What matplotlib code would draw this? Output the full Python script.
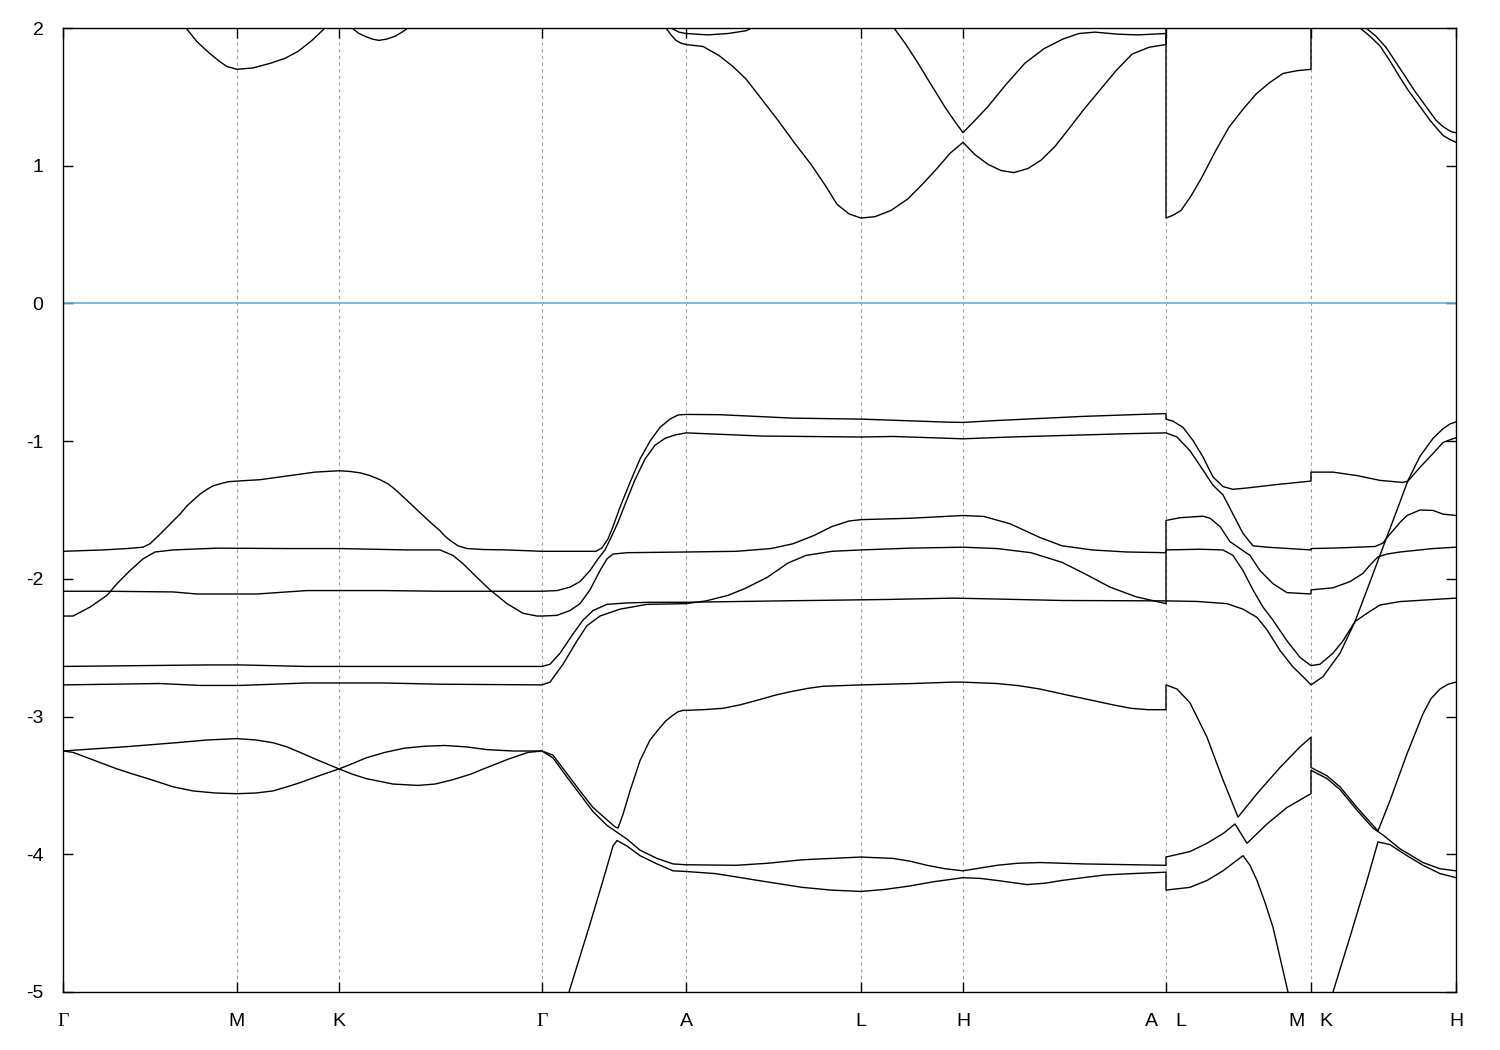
import matplotlib
matplotlib.use('Agg')
import matplotlib.pyplot as plt
import matplotlib.transforms as mtransforms

plt.rcParams['font.family'] = ['Liberation Sans', 'DejaVu Sans']
plt.rcParams['axes.unicode_minus'] = False

# k-path (arbitrary units) and high-symmetry points
node_k = [0, 174, 276, 479, 623, 798, 900, 1103, 1248, 1393]
node_lbl = ['Γ', 'M', 'K', 'Γ', 'A', 'L', 'H', '', '', 'H']
break_lbl = [(1103, 'A', 'L'), (1248, 'M', 'K')]
y_ticks = [2, 1, 0, -1, -2, -3, -4, -5]

# bands as (k, E) pairs, E in eV relative to E_F
v1 = [(0,-1.80),(40,-1.79),(64,-1.78),(80,-1.77),(87,-1.745),(95,-1.69),(104,-1.625),(110,-1.58),(117,-1.53),
      (124,-1.47),(130,-1.43),(137,-1.385),(144,-1.35),(150,-1.325),(157,-1.31),(165,-1.295),(174,-1.29),
      (197,-1.28),(227,-1.25),(252,-1.225),(276,-1.215),(287,-1.22),(297,-1.23),(307,-1.25),(317,-1.28),
      (325,-1.31),(332,-1.35),(338,-1.39),(344,-1.43),(352,-1.485),(360,-1.54),(369,-1.60),(377,-1.65),
      (382,-1.69),(387,-1.72),(395,-1.76),(404,-1.78),(420,-1.787),(444,-1.79),(479,-1.80),
      (497,-1.80),(517,-1.80),(533,-1.80),(539,-1.775),(545,-1.71),(550,-1.62),(557,-1.48),(567,-1.30),(577,-1.13),
      (587,-1.00),(597,-0.90),(607,-0.84),(615,-0.81),(623,-0.806),
      (657,-0.808),(730,-0.833),(798,-0.84),(884,-0.862),(900,-0.864),(934,-0.85),(1021,-0.82),(1077,-0.806),(1103,-0.80),
      (1103,-0.84),(1110,-0.855),(1120,-0.90),(1130,-0.995),(1140,-1.115),(1150,-1.26),(1160,-1.33),(1170,-1.35),
      (1184,-1.34),(1214,-1.315),(1248,-1.29),
      (1248,-1.225),(1270,-1.225),(1294,-1.25),(1317,-1.285),(1340,-1.30),(1345,-1.29),(1357,-1.19),(1370,-1.09),
      (1380,-1.01),(1387,-0.99),(1393,-0.975)]

v2 = [(0,-2.09),(44,-2.09),(110,-2.095),(134,-2.11),(194,-2.11),(244,-2.085),(320,-2.085),(377,-2.09),(460,-2.09),(479,-2.09),
      (494,-2.085),(507,-2.06),(517,-2.02),(527,-1.94),(535,-1.855),(542,-1.79),(549,-1.685),(555,-1.59),(562,-1.46),
      (572,-1.28),(582,-1.13),(592,-1.03),(602,-0.98),(612,-0.955),(623,-0.94),
      (699,-0.963),(798,-0.97),(830,-0.966),(900,-0.983),(947,-0.97),(1064,-0.946),(1103,-0.94),
      (1114,-0.97),(1127,-1.07),(1140,-1.21),(1150,-1.32),(1160,-1.39),(1170,-1.53),(1180,-1.67),(1190,-1.76),
      (1204,-1.77),(1248,-1.79),
      (1248,-1.78),(1277,-1.775),(1312,-1.765),(1320,-1.74),(1324,-1.70),(1330,-1.65),(1337,-1.59),(1344,-1.54),
      (1357,-1.50),(1370,-1.503),(1380,-1.53),(1393,-1.54)]

v3 = [(0,-2.27),(10,-2.27),(27,-2.205),(44,-2.12),(54,-2.035),(67,-1.94),(80,-1.855),(92,-1.805),(110,-1.79),
      (154,-1.777),(224,-1.78),(277,-1.78),(344,-1.79),(377,-1.79),(390,-1.83),(400,-1.89),(414,-1.99),(427,-2.08),
      (444,-2.18),(460,-2.25),(474,-2.27),(479,-2.27),
      (494,-2.265),(507,-2.23),(517,-2.18),(527,-2.08),(537,-1.94),(544,-1.855),(550,-1.82),(564,-1.81),(623,-1.805),
      (673,-1.80),(708,-1.78),(730,-1.745),(751,-1.685),(769,-1.62),(786,-1.58),(798,-1.57),(847,-1.56),(900,-1.54),
      (921,-1.547),(947,-1.60),(977,-1.70),(999,-1.76),(1029,-1.79),(1064,-1.805),(1103,-1.81),
      (1103,-1.79),(1137,-1.785),(1160,-1.79),(1170,-1.83),(1180,-1.94),(1190,-2.08),(1200,-2.205),(1210,-2.30),
      (1224,-2.45),(1237,-2.57),(1248,-2.63),
      (1257,-2.62),(1270,-2.54),(1280,-2.45),(1292,-2.31),(1304,-2.25),(1317,-2.19),(1337,-2.165),(1370,-2.15),(1393,-2.14)]

v4 = [(0,-2.636),(144,-2.625),(177,-2.625),(244,-2.636),(479,-2.636),
      (487,-2.62),(497,-2.54),(510,-2.40),(520,-2.30),(530,-2.23),(544,-2.185),(564,-2.175),(587,-2.17),(623,-2.17),
      (717,-2.16),(821,-2.15),(890,-2.14),(925,-2.145),(999,-2.157),(1103,-2.16),
      (1134,-2.164),(1164,-2.18),(1180,-2.22),(1194,-2.28),(1204,-2.37),(1217,-2.52),(1230,-2.64),(1240,-2.71),(1248,-2.77),
      (1260,-2.71),(1277,-2.54),(1292,-2.31),(1304,-2.08),(1320,-1.77),(1334,-1.50),(1345,-1.285),(1357,-1.11),
      (1370,-0.98),(1380,-0.91),(1387,-0.875),(1393,-0.86)]

v5 = [(0,-2.77),(97,-2.76),(137,-2.774),(177,-2.774),(244,-2.756),(320,-2.756),(377,-2.765),(479,-2.77),
      (487,-2.75),(500,-2.62),(514,-2.45),(524,-2.34),(537,-2.27),(557,-2.22),(584,-2.185),(623,-2.18),
      (643,-2.16),(665,-2.12),(682,-2.07),(704,-1.99),(725,-1.885),(743,-1.83),(769,-1.80),(798,-1.79),(847,-1.777),
      (900,-1.77),(934,-1.78),(968,-1.81),(999,-1.88),(1021,-1.96),(1047,-2.06),(1073,-2.13),(1103,-2.18),
      (1103,-1.576),(1117,-1.556),(1140,-1.545),(1147,-1.56),(1157,-1.62),(1167,-1.73),(1177,-1.78),(1187,-1.83),
      (1197,-1.94),(1210,-2.035),(1224,-2.10),(1248,-2.11),
      (1248,-2.08),(1270,-2.065),(1287,-2.02),(1300,-1.96),(1307,-1.90),(1315,-1.84),(1324,-1.82),(1337,-1.805),
      (1370,-1.78),(1393,-1.77)]

w1 = [(0,-3.25),(10,-3.26),(32,-3.32),(54,-3.38),(71,-3.42),(89,-3.46),(110,-3.51),(130,-3.54),(152,-3.555),
      (174,-3.56),(193,-3.555),(210,-3.54),(224,-3.51),(237,-3.48),(256,-3.43),(276,-3.38),
      (290,-3.34),(303,-3.30),(322,-3.26),(341,-3.23),(362,-3.215),(382,-3.21),(403,-3.22),(424,-3.24),(450,-3.25),(479,-3.25),
      (490,-3.28),(504,-3.415),(517,-3.54),(530,-3.66),(544,-3.75),(552,-3.80),(555,-3.81),(560,-3.71),(567,-3.54),
      (577,-3.32),(587,-3.17),(597,-3.08),(603,-3.03),(610,-2.99),(615,-2.965),(620,-2.955),(623,-2.955),
      (640,-2.95),(660,-2.94),(677,-2.915),(695,-2.88),(712,-2.845),(727,-2.82),(745,-2.795),(760,-2.78),(798,-2.77),
      (850,-2.76),(890,-2.75),(900,-2.75),(934,-2.76),(955,-2.775),(977,-2.80),(1005,-2.845),(1034,-2.89),
      (1050,-2.915),(1068,-2.94),(1085,-2.95),(1103,-2.95),
      (1103,-2.77),(1114,-2.80),(1127,-2.90),(1144,-3.15),(1160,-3.46),(1175,-3.73),(1194,-3.56),(1217,-3.37),
      (1237,-3.22),(1248,-3.15),
      (1248,-3.37),(1264,-3.43),(1277,-3.51),(1294,-3.66),(1310,-3.79),(1315,-3.83),(1327,-3.61),(1344,-3.27),
      (1360,-2.98),(1368,-2.87),(1377,-2.80),(1385,-2.765),(1393,-2.75)]

w2 = [(0,-3.25),(30,-3.235),(61,-3.22),(87,-3.205),(113,-3.19),(144,-3.17),(174,-3.16),(193,-3.17),(210,-3.19),
      (224,-3.22),(237,-3.26),(256,-3.32),(276,-3.38),(290,-3.42),(303,-3.45),(330,-3.49),(355,-3.50),
      (372,-3.49),(389,-3.46),(407,-3.42),(424,-3.37),(445,-3.31),(465,-3.26),(479,-3.25),
      (490,-3.30),(504,-3.44),(517,-3.565),(530,-3.69),(544,-3.79),(554,-3.84),(564,-3.89),(577,-3.97),(594,-4.03),
      (610,-4.07),(623,-4.076),
      (673,-4.08),(705,-4.065),(739,-4.04),(798,-4.02),(830,-4.03),(847,-4.05),(864,-4.08),(882,-4.105),(900,-4.12),
      (917,-4.10),(934,-4.08),(955,-4.065),(977,-4.06),(1021,-4.07),(1103,-4.08),
      (1103,-4.02),(1127,-3.98),(1144,-3.92),(1160,-3.85),(1172,-3.78),(1178,-3.85),(1184,-3.92),(1204,-3.78),
      (1224,-3.66),(1248,-3.56),
      (1248,-3.39),(1264,-3.45),(1277,-3.53),(1294,-3.68),(1310,-3.81),(1320,-3.86),(1337,-3.96),(1360,-4.06),
      (1377,-4.105),(1393,-4.12)]

w3 = [(479,-5.63),(506,-5.0),(526,-4.53),(540,-4.19),(550,-3.94),(554,-3.90),(564,-3.94),(577,-4.01),(594,-4.07),
      (610,-4.12),(623,-4.125),
      (652,-4.14),(674,-4.165),(695,-4.19),(717,-4.215),(739,-4.24),(768,-4.26),(798,-4.27),(822,-4.255),(847,-4.23),
      (870,-4.20),(890,-4.18),(900,-4.17),(917,-4.175),(934,-4.19),(964,-4.22),(982,-4.21),(999,-4.19),(1020,-4.17),
      (1042,-4.15),(1070,-4.14),(1103,-4.13),
      (1103,-4.26),(1127,-4.24),(1144,-4.19),(1160,-4.12),(1180,-4.01),(1187,-4.08),(1194,-4.19),(1202,-4.35),
      (1210,-4.53),(1225,-5.0),(1248,-5.6),
      (1248,-5.55),(1270,-5.0),(1287,-4.60),(1304,-4.19),(1315,-3.91),(1327,-3.93),(1344,-4.01),(1360,-4.08),
      (1377,-4.14),(1393,-4.17)]

# conduction bands (partly above the window)
c_mk = [(112,2.09),(123,2.0),(134,1.90),(146,1.82),(156,1.76),(164,1.72),(174,1.70),(190,1.71),(208,1.745),
        (222,1.78),(235,1.83),(249,1.91),(262,2.0),(272,2.06)]
c_k = [(282,2.06),(289,2.0),(296,1.96),(302,1.94),(309,1.92),(316,1.91),(324,1.92),(332,1.94),(339,1.97),
       (345,2.0),(352,2.05)]
c1 = [(592,2.1),(603,2.0),(608,1.95),(613,1.91),(618,1.89),(623,1.88),(640,1.866),(656,1.80),(670,1.72),(683,1.63),
      (699,1.48),(715,1.33),(731,1.17),(748,1.01),(762,0.86),(774,0.72),(786,0.65),(798,0.62),(812,0.63),(828,0.675),
      (845,0.76),(860,0.87),(874,0.98),(887,1.09),(900,1.17),(912,1.08),(925,1.01),(938,0.965),(951,0.95),(965,0.98),
      (978,1.04),(992,1.14),(1005,1.26),(1021,1.41),(1037,1.55),(1053,1.69),(1069,1.81),(1086,1.86),(1103,1.88),
      (1103,2.3)]
c2 = [(600,2.06),(608,2.0),(616,1.97),(623,1.96),(645,1.95),(665,1.96),(683,1.98),(689,2.0),(700,2.06)]
c3 = [(822,2.1),(831,2.0),(843,1.88),(855,1.745),(868,1.59),(882,1.425),(891,1.33),(900,1.24),(912,1.33),(925,1.43),
      (943,1.59),(962,1.745),(981,1.85),(1000,1.92),(1016,1.96),(1032,1.97),(1055,1.955),(1075,1.95),(1103,1.96),
      (1103,0.62),(1110,0.64),(1118,0.675),(1128,0.78),(1139,0.917),(1152,1.10),(1166,1.28),(1180,1.41),(1193,1.52),
      (1206,1.60),(1220,1.67),(1234,1.69),(1248,1.70),(1248,2.3)]
c4 = [(1289,2.1),(1297,2.0),(1307,1.94),(1317,1.87),(1327,1.76),(1337,1.64),(1345,1.55),(1353,1.47),(1360,1.40),
      (1367,1.33),(1374,1.27),(1380,1.22),(1387,1.19),(1393,1.17)]
c5 = [(1293,2.1),(1303,2.0),(1313,1.94),(1323,1.86),(1333,1.75),(1343,1.64),(1351,1.55),(1359,1.47),(1366,1.40),
      (1373,1.33),(1379,1.29),(1385,1.26),(1389,1.245),(1393,1.24)]

bands = [v1, v2, v3, v4, v5, w1, w2, w3, c_mk, c_k, c1, c2, c3, c4, c5]

fig = plt.figure(figsize=(15, 10.5), dpi=100)
ax = fig.add_axes([63/1500, 1-992/1050, 1393/1500, 964/1050])

for b in bands:
    k, e = zip(*b)
    ax.plot(k, e, color='black', lw=1.0)

ax.axhline(0, color='#56b4e9', lw=1.2)
for k in node_k[1:-1]:
    ax.axvline(k, color='#a0a0a0', lw=0.8, ls=(0, (3, 3)), zorder=0)

ax.set_xlim(node_k[0], node_k[-1])
ax.set_ylim(-5, 2)
ax.set_yticks(y_ticks)
ax.set_yticklabels([str(t) for t in y_ticks])
ax.set_xticks(node_k)
ax.set_xticklabels(node_lbl)
for lab in ax.get_xticklabels():
    if lab.get_text() == 'Γ':
        lab.set_fontfamily('Liberation Serif')

ax.tick_params(direction='in', length=7.5, width=1, top=True, right=True, labelsize=14)
ax.tick_params(axis='x', pad=15)
ax.tick_params(axis='y', pad=14)
for s in ax.spines.values():
    s.set_linewidth(1.0)

trans = mtransforms.blended_transform_factory(ax.transData, ax.transAxes)
for kb, left, right in break_lbl:
    ax.text(kb - 15, -21/964, left, transform=trans, ha='center', va='top', fontsize=14)
    ax.text(kb + 15, -21/964, right, transform=trans, ha='center', va='top', fontsize=14)

fig.savefig('out.png', dpi=100)
